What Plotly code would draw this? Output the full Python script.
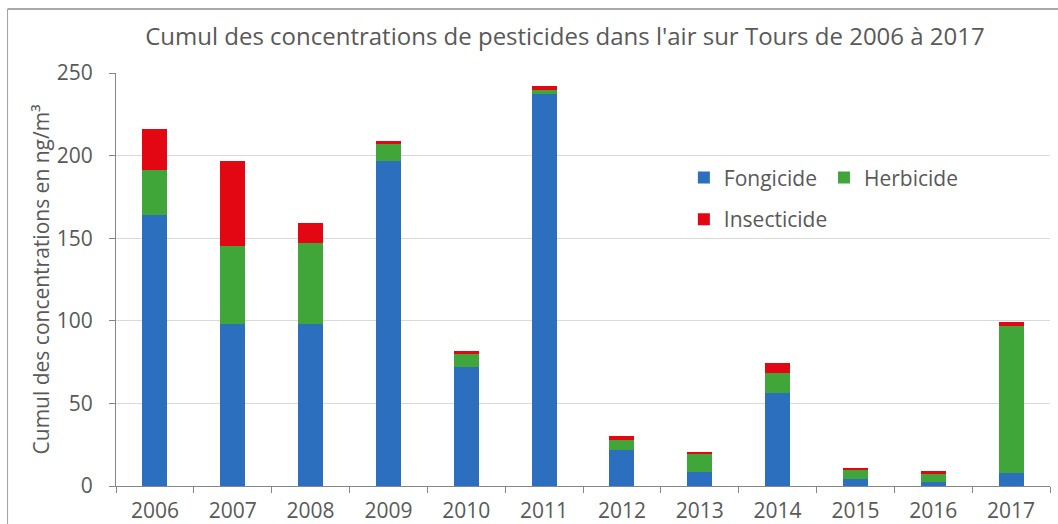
import plotly.graph_objects as go

years = ["2006", "2007", "2008", "2009", "2010", "2011", "2012", "2013", "2014", "2015", "2016", "2017"]
fongicide = [164, 98, 98, 197, 72, 237, 22, 8.5, 56, 4.5, 2.5, 8]
herbicide = [27, 47, 49, 10, 8, 3, 6, 11, 12.5, 5, 4.8, 89]
insecticide = [25, 52, 12, 2, 1.5, 2, 2.5, 1, 6, 1.5, 2, 2]
y_ticks = [0, 50, 100, 150, 200, 250]

FONT = "Open Sans"
TXT = "#595959"

fig = go.Figure()
fig.add_trace(go.Bar(x=years, y=fongicide, name="Fongicide", marker_color="#2B6FBE",
                     marker_line_width=0, legend="legend"))
fig.add_trace(go.Bar(x=years, y=herbicide, name="Herbicide", marker_color="#41A63A",
                     marker_line_width=0, legend="legend2"))
fig.add_trace(go.Bar(x=years, y=insecticide, name="Insecticide", marker_color="#E30613",
                     marker_line_width=0, legend="legend3"))

leg_common = dict(font=dict(family=FONT, size=21, color=TXT), bgcolor="rgba(0,0,0,0)",
                  itemwidth=30, yanchor="middle", xanchor="left", orientation="h")

border = dict(color="#8C8C8C", width=1.5)

fig.update_layout(
    width=1058, height=524,
    margin=dict(l=116, r=8, t=73, b=38),
    paper_bgcolor="white", plot_bgcolor="white",
    barmode="stack", bargap=0.68,
    title=dict(text="Cumul des concentrations de pesticides dans l'air sur Tours de 2006 à 2017",
               x=0.534, xanchor="center", y=0.9294, yanchor="middle", yref="container",
               font=dict(family=FONT, size=24, color=TXT)),
    legend=dict(x=0.608, y=0.746, **leg_common),
    legend2=dict(x=0.758, y=0.746, **leg_common),
    legend3=dict(x=0.608, y=0.645, **leg_common),
    xaxis=dict(type="category", showline=True, linecolor="#868686", linewidth=1,
               ticks="outside", tickson="boundaries", ticklen=6, tickcolor="#868686",
               ticklabelstandoff=6, automargin=False,
               tickfont=dict(family=FONT, size=21, color=TXT), showgrid=False),
    yaxis=dict(range=[0, 250], tickvals=y_ticks, showline=True, linecolor="#868686", linewidth=1,
               ticks="outside", ticklen=6, tickcolor="#868686", ticklabelstandoff=12,
               gridcolor="#D9D9D9", gridwidth=1, zeroline=False, automargin=False,
               tickfont=dict(family=FONT, size=21, color=TXT),
               title=dict(text="Cumul des concentrations en ng/m³", standoff=1,
                          font=dict(family=FONT, size=21, color=TXT))),
    shapes=[
        dict(type="line", xref="paper", yref="paper", x0=-0.1161, x1=1.0086, y0=1.1549, y1=1.1549,
             line=border, layer="above"),
        dict(type="line", xref="paper", yref="paper", x0=-0.1161, x1=-0.1161, y0=-0.0920, y1=1.1549,
             line=dict(color="#9E9E9E", width=1), layer="above"),
    ],
    showlegend=True,
)

fig.write_html("out.html", config={"displayModeBar": False},
               post_script="document.body.style.margin='0';")
